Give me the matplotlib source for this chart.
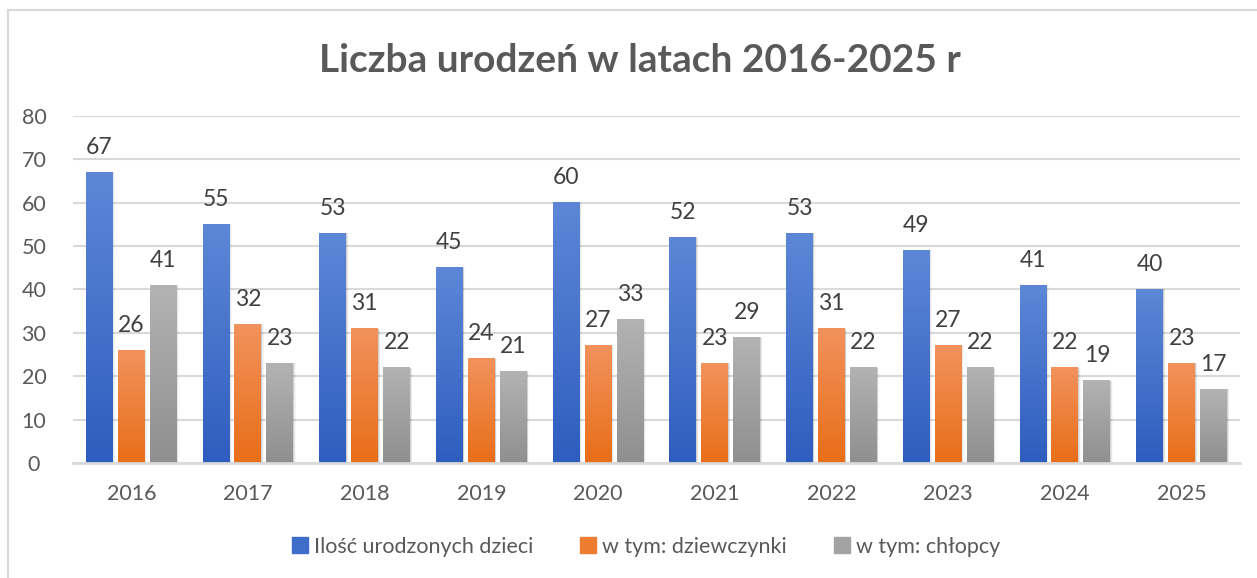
"""Liczba urodzeń 2016-2025 - grouped bar chart with gradient bars."""
import matplotlib
matplotlib.use("Agg")
import matplotlib.pyplot as plt
import numpy as np
from matplotlib.colors import LinearSegmentedColormap
from matplotlib.lines import Line2D

years = ["2016", "2017", "2018", "2019", "2020", "2021", "2022", "2023", "2024", "2025"]
total = [67, 55, 53, 45, 60, 52, 53, 49, 41, 40]
girls = [26, 32, 31, 24, 27, 23, 31, 27, 22, 23]
boys = [41, 23, 22, 21, 33, 29, 22, 22, 19, 17]
series_names = ["Ilość urodzonych dzieci", "w tym: dziewczynki", "w tym: chłopcy"]

# (top colour, bottom colour) per series
gradients = [("#5d87d6", "#2e5dbf"), ("#f2925c", "#e86e18"), ("#b3b3b3", "#8f8f8f")]
legend_colors = ["#3d6cc9", "#ee7c30", "#a3a3a3"]

plt.rcParams["font.family"] = ["Lato", "DejaVu Sans"]

fig = plt.figure(figsize=(12.57, 5.78), dpi=100)
ax = fig.add_axes([0.058, 0.199, 0.9285, 0.6003])

x = np.arange(len(years))
width = 0.231
step = 0.274
grad = np.linspace(1, 0, 256).reshape(-1, 1)

for i, (vals, (top, bot)) in enumerate(zip([total, girls, boys], gradients)):
    bars = ax.bar(x + (i - 1) * step, vals, width, color=bot, zorder=2)
    cmap = LinearSegmentedColormap.from_list(f"g{i}", [bot, top])
    for b in bars:
        x0, w, h = b.get_x(), b.get_width(), b.get_height()
        # soft shadow to the right
        for k, a in enumerate([0.10, 0.06, 0.03]):
            ax.bar(x0 + w / 2 + 0.006 * (k + 1), h, w, color="black",
                   alpha=a, zorder=1.5, linewidth=0)
        ax.imshow(grad, extent=[x0, x0 + w, 0, h], aspect="auto",
                  cmap=cmap, zorder=2.5, interpolation="bilinear")
        ax.annotate(f"{h:.0f}", (x0 + w / 2, h), xytext=(0, 18),
                    textcoords="offset points", ha="center", va="center",
                    fontsize=16.5, color="#404040")

ax.set_xlim(-0.5, len(years) - 0.5)
ax.set_ylim(0, 80)
ax.set_yticks(range(0, 81, 10))
ax.set_xticks(x)
ax.set_xticklabels(years)
ax.grid(axis="y", color="#d9d9d9", linewidth=1.5, zorder=0)
ax.set_axisbelow(True)
for side in ["top", "right", "left"]:
    ax.spines[side].set_visible(False)
ax.spines["bottom"].set_color("#d9d9d9")
ax.spines["bottom"].set_linewidth(2)
ax.spines["bottom"].set_zorder(3)
ax.tick_params(axis="both", length=0, labelsize=15.5, colors="#595959")
ax.tick_params(axis="x", pad=15)
ax.tick_params(axis="y", pad=28)
for lbl in ax.get_yticklabels():
    lbl.set_horizontalalignment("center")

fig.text(0.509, 0.895, "Liczba urodzeń w latach 2016-2025 r", ha="center",
         va="center", fontsize=28, fontweight="bold", color="#595959")

handles = [Line2D([], [], marker="s", linestyle="none", markersize=11,
                  markerfacecolor=c, markeredgecolor=c) for c in legend_colors]
fig.legend(handles, series_names, loc="center", bbox_to_anchor=(0.512, 0.054),
           ncol=3, frameon=False, fontsize=15.5, handletextpad=0.05,
           handlelength=1.2, columnspacing=1.95, labelcolor="#595959")

# chart border (top and left edges visible)
fig.add_artist(Line2D([8 / 1257, 1], [1 - 10 / 578, 1 - 10 / 578],
                      color="#d9d9d9", linewidth=1.5, transform=fig.transFigure))
fig.add_artist(Line2D([8 / 1257, 8 / 1257], [0, 1 - 10 / 578],
                      color="#d9d9d9", linewidth=1.5, transform=fig.transFigure))

fig.savefig("out.png", dpi=100)
plt.close(fig)
